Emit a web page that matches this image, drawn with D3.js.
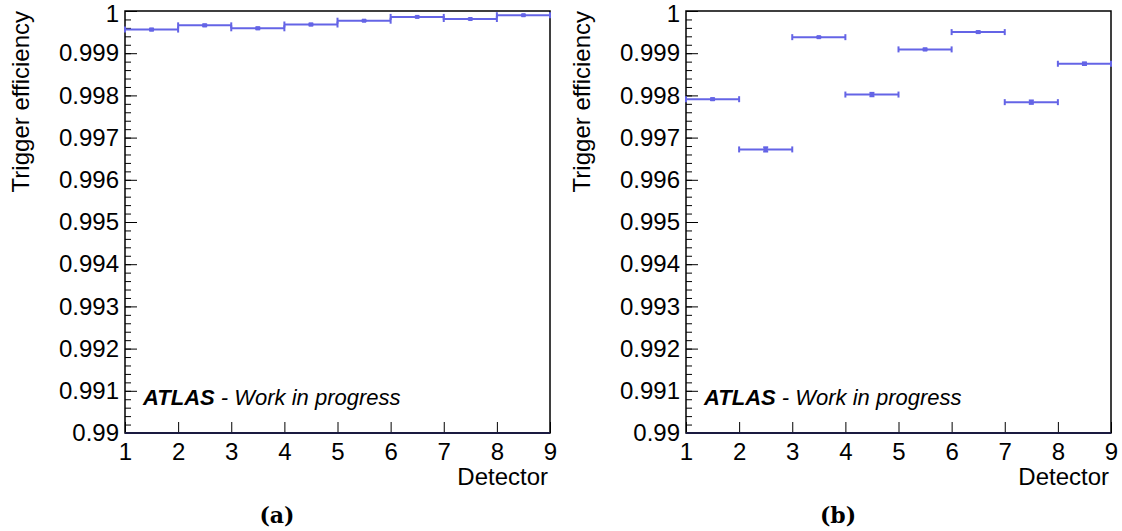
<!DOCTYPE html>
<html>
<head>
<meta charset="utf-8">
<script src="https://cdn.jsdelivr.net/npm/d3@7"></script>
<style>
  body { margin: 0; background: #fff; }
  svg text { font-family: "Liberation Sans", Arial, Helvetica, sans-serif; fill: #000; }
  .tick line { stroke: #000; }
  .caption { font-family: "DejaVu Serif", "Liberation Serif", serif; font-weight: bold; }
</style>
</head>
<body>
<svg id="chart" width="1122" height="531"></svg>
<script>
// detector bin edges (1..9), one bin per detector
var binEdges = [1, 2, 3, 4, 5, 6, 7, 8, 9];
var xTicks = [1, 2, 3, 4, 5, 6, 7, 8, 9];
var yTicks = [0.99, 0.991, 0.992, 0.993, 0.994, 0.995, 0.996, 0.997, 0.998, 0.999, 1];

// panel (a)
var effA = [0.99956, 0.99966, 0.99959, 0.99968, 0.99977, 0.99986, 0.99981, 0.99990];
var errA = [0.00002, 0.00002, 0.00002, 0.00002, 0.00001, 0.00001, 0.00001, 0.00001];
// panel (b)
var effB = [0.99791, 0.99672, 0.99938, 0.99802, 0.99909, 0.99950, 0.99784, 0.99875];
var errB = [0.00002, 0.00005, 0.00001, 0.00004, 0.00002, 0.00002, 0.00004, 0.00003];

var captions = ["(a)", "(b)"];

var svg = d3.select("#chart");

var pw = 425, ph = 422, plotTop = 11;
var col = "#6464e6";

function drawPanel(left, eff, err, caption) {
    var x = d3.scaleLinear().domain([1, 9]).range([left, left + pw]);
    var y = d3.scaleLinear().domain([0.99, 1]).range([plotTop + ph, plotTop]);
    var g = svg.append("g");

    // minor y ticks
    g.append("g")
        .attr("transform", "translate(" + left + ",0)")
        .call(d3.axisLeft(y).ticks(50).tickSize(-6).tickFormat(""))
        .call(function(s) { s.select(".domain").remove(); });

    // major y ticks with labels
    g.append("g")
        .attr("transform", "translate(" + left + ",0)")
        .call(d3.axisLeft(y).tickValues(yTicks).tickSizeInner(-12).tickSizeOuter(0).tickPadding(6)
            .tickFormat(function(d) { return String(+d.toFixed(3)); }))
        .call(function(s) {
            s.select(".domain").remove();
            s.selectAll("text").style("font-size", "24px")
                .attr("dy", function(d) { return d === 1 ? "0.45em" : "0.32em"; });
        });

    // x ticks
    g.append("g")
        .attr("transform", "translate(0," + (plotTop + ph) + ")")
        .call(d3.axisBottom(x).tickValues(xTicks).tickSizeInner(-11).tickSizeOuter(0).tickPadding(10)
            .tickFormat(d3.format("d")))
        .call(function(s) {
            s.select(".domain").remove();
            s.selectAll("text").style("font-size", "24px");
        });

    // frame
    g.append("rect")
        .attr("x", left).attr("y", plotTop)
        .attr("width", pw).attr("height", ph)
        .attr("fill", "none").attr("stroke", "#000").attr("stroke-width", 1.5);
    g.append("line")
        .attr("x1", left).attr("x2", left + pw)
        .attr("y1", plotTop + ph).attr("y2", plotTop + ph)
        .attr("stroke", "#1a1a40").attr("stroke-width", 2);

    // data points with error bars
    var pts = g.append("g").attr("stroke", col).attr("stroke-width", 2).attr("fill", col);
    eff.forEach(function(v, i) {
        var x0 = x(binEdges[i]), x1 = x(binEdges[i + 1]), xc = (x0 + x1) / 2;
        var yc = y(v), ylo = y(v - err[i]), yhi = y(v + err[i]);
        pts.append("line").attr("x1", x0).attr("x2", x1).attr("y1", yc).attr("y2", yc);
        pts.append("line").attr("x1", x0).attr("x2", x0).attr("y1", yc - 3).attr("y2", yc + 3);
        pts.append("line").attr("x1", x1).attr("x2", x1).attr("y1", yc - 3).attr("y2", yc + 3);
        pts.append("line").attr("x1", xc).attr("x2", xc).attr("y1", ylo).attr("y2", yhi);
        pts.append("line").attr("x1", xc - 2.5).attr("x2", xc + 2.5).attr("y1", ylo).attr("y2", ylo);
        pts.append("line").attr("x1", xc - 2.5).attr("x2", xc + 2.5).attr("y1", yhi).attr("y2", yhi);
        pts.append("rect").attr("x", xc - 2).attr("y", yc - 2).attr("width", 4).attr("height", 4)
            .attr("stroke", "none");
    });

    // axis titles
    g.append("text")
        .attr("transform", "translate(" + (left - 96) + "," + plotTop + ") rotate(-90)")
        .attr("text-anchor", "end")
        .style("font-size", "24px")
        .text("Trigger efficiency");
    g.append("text")
        .attr("x", left + pw - 2).attr("y", 485)
        .attr("text-anchor", "end")
        .style("font-size", "24px")
        .text("Detector");

    // ATLAS label
    var atlas = g.append("text")
        .attr("x", left + 18).attr("y", 405)
        .style("font-size", "22px").style("font-style", "italic");
    atlas.append("tspan").style("font-weight", "bold").text("ATLAS");
    atlas.append("tspan").text(" - Work in progress");

    // caption
    g.append("text")
        .attr("class", "caption")
        .attr("x", left + 152).attr("y", 523)
        .attr("text-anchor", "middle")
        .style("font-size", "22px")
        .text(caption);
}

drawPanel(125, effA, errA, captions[0]);
drawPanel(686, effB, errB, captions[1]);
</script>
</body>
</html>
